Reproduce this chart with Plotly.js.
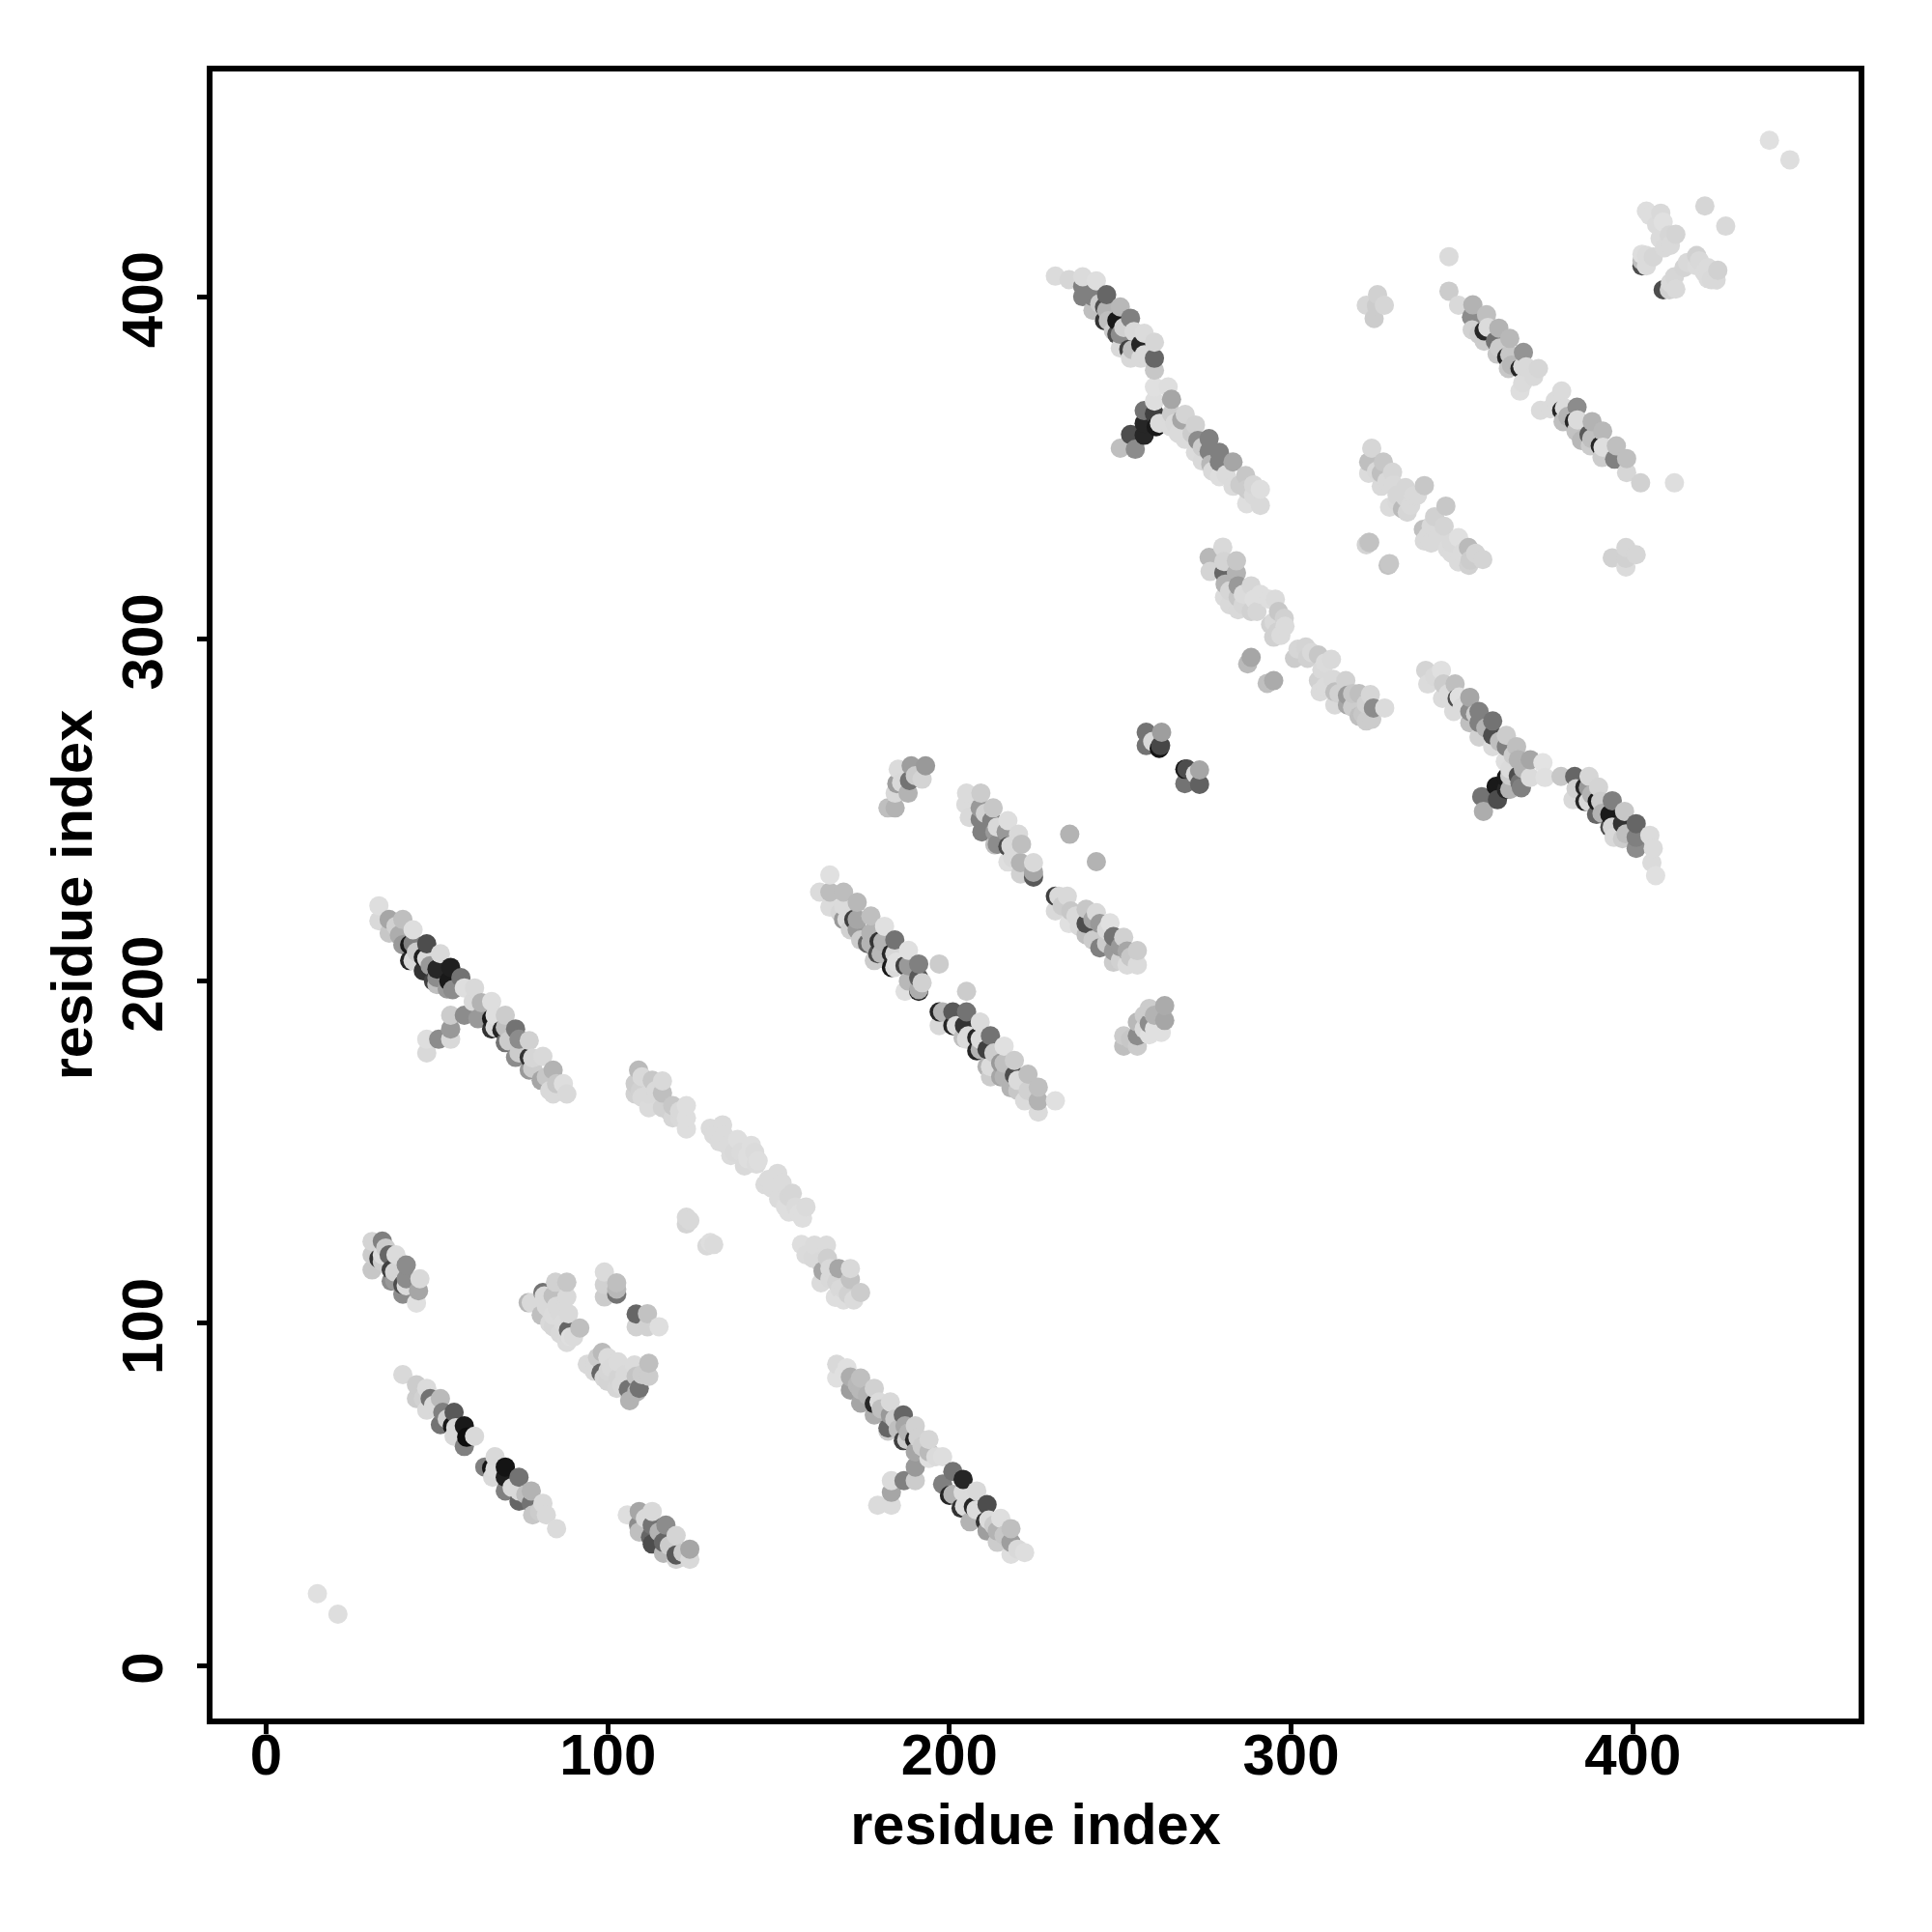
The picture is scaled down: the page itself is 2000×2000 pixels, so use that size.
<!DOCTYPE html>
<html><head><meta charset="utf-8"><script src="https://cdn.plot.ly/plotly-3.0.1.min.js"></script>
<style>html,body{margin:0;padding:0;background:#fff}</style></head><body><div id="c" style="width:2000px;height:2000px"></div>
<script>
// each contact: [residue i, residue j, contact strength (0 = white, 100 = black)]
const isolated=[[15,21,12],[21,15,13],[440,445.7,12],[446,440,13],[243,234.9,30],[235.2,242.9,30],[197,205,20],[205,197,20],[412.2,345.6,13]];
const helixA=[[33,222,13],[33,217.6,15],[36,218,35],[40,218,25],[36,214,22],[39,213.4,32],[40,210.6,40],[43,215,13],[42,210.6,90],[43,211,50],[42,206,85],[43,206,15],[47,210.9,70],[46,207,88],[46,203,80],[51,208,15],[50,203.5,85],[49,200,75],[54,204,88],[53.5,200,90],[53,197.7,40],[57,201,55],[58,198,13],[61,198,15],[47,206.5,15],[50,201,45],[50,199,25],[54.6,197.5,45],[44,208.5,20],[38,216,18],[48,204.5,40]];
const branchA=[[54,190,20],[58,190,45],[54,186,40],[54,183,15],[50.5,183,45],[47,183,13],[47,179,15]];
const helixB=[[60.6,194,15],[63,193.7,30],[62,189,40],[66,189,90],[66,194,13],[67,190,13],[66,186,80],[70,190,20],[69,185.7,85],[73,186,55],[70,182,55],[74,183,45],[73,177.7,45],[77,177.7,80],[77,182.6,18],[77,174,40],[81,178,15],[80.5,171,35],[84,174,30],[84,167,15],[87,170,13],[88,167,15],[67,186.5,15],[70,186.5,25],[78,177.5,16],[78,174.5,20],[71,182.5,20],[74,179,20],[82,172,22],[85,170,22],[83,168,15]];
const helixC=[[165,231,12],[162,226,14],[165,226,26],[169,226,26],[165,221.6,14],[169,222,14],[169,218,40],[172,218,75],[173,223,28],[173,215,40],[176,211,60],[177,214,30],[177,219,25],[179,208,70],[179.4,211.6,80],[181,216,12],[183,204,90],[183,208,85],[184,212,55],[187,197,12],[187,204.5,75],[188,209,12],[191,197,85],[191,197.5,32],[191,201,65],[191,205,50],[170,218,14],[173,218,35],[177,211,30],[180,208,28],[180.5,211.5,30],[184,204,14],[184,208,16],[184.5,205.5,12],[188,204.5,40],[178,206,20],[174,212,20],[171,215,18],[168,220,16],[188,200,28],[192,199.5,18]];
const helixD=[[197,191,85],[198,191,30],[197,187,15],[201,187,85],[201,191,65],[204,183.4,25],[204.4,187,80],[205,191,55],[208,179.6,85],[208,183.5,85],[209,188,14],[211,175,30],[211,180,75],[212,184,55],[215,172,35],[215,176,40],[216,181,12],[218,168.8,30],[219,172.5,70],[219,176.8,20],[222,165,14],[223,172.8,25],[226,161.7,14],[226,165,30],[226,169,25],[231,165,12],[202,187,14],[205.5,184,14],[209,183,14],[209,180,30],[205,183,14],[212,175,14],[212,172,20],[216,172,30],[220,171,14],[216,176,25],[220,168,22],[223,168,18],[213,179,20]];
const helixE=[[231,220.5,15],[231,224.8,75],[234.5,224.8,15],[235,216.8,12],[235.5,220.5,22],[240,213.5,25],[240,216.8,70],[240,221,22],[243,220,15],[244,209.7,50],[244,216.8,40],[247,217,12],[248,205.5,20],[248,208.8,40],[248,213,55],[251,212.8,18],[252,204.7,14],[252,208.8,35],[255,204.7,14],[255,208.9,20],[232,224.8,15],[233,222,20],[237,219,15],[238,216,15],[242,212,20],[242,218,35],[246,211,20],[246,215,15],[250,210,40],[250,206,18],[253,207,22]];
const clusterF=[[251,184,20],[251,181,25],[255,188,28],[255,184,45],[255,181,20],[258.5,192,20],[258.5,187.6,45],[258.5,184.3,12],[262,185,12],[263,188.5,35],[263,192.8,33],[253,183,22],[257,186,15],[260,186,12],[257,190,20],[260,190,30]];
const helixG=[[231,406,14],[235,405,16],[239,403,50],[239,405.8,14],[239,400,50],[242,396,25],[242,400,50],[243,404.6,13],[245.4,393,80],[245.4,397,70],[246,400.6,60],[249,389,70],[249,393,90],[250,397,28],[252.5,384.6,75],[253,382,15],[253,393.7,50],[254,389.8,15],[256,382,15],[256,386,85],[257,389.3,14],[260,382,60],[260,386.7,16],[260,378.5,22],[260,373.6,12],[264,373.6,13],[246.5,393,25],[250,389,45],[246,396,30],[257,383,15],[253.5,384.5,25],[250,385,15],[244,398,20],[248,390,20],[251,391,18]];
const branchG=[[250,355.7,25],[253,359.7,70],[254.4,355.4,45],[257,359.5,85],[257,363,85],[257,366.7,55],[260.5,362,90],[260,365.8,75],[260,369.5,13],[261.5,363,14]];
const helixH=[[264.7,362,14],[265,365.8,20],[265,370,35],[269,358.3,14],[269,365.6,17],[272,354.5,14],[272,362.5,18],[272.7,358,45],[276.5,351,28],[276,354.8,50],[276,358.5,50],[279,347.4,13],[279,351.7,50],[279,354.5,50],[283,344.6,14],[283,351.7,35],[287,339.5,13],[287,343.7,20],[286.7,347.7,22],[291,339,15],[291,343.7,13],[267,360,14],[271,360,20],[274,356,20],[274,352,15],[277,349,15],[281,348,14],[285,345,20],[289,342,15],[289,345,16],[266,363,15],[268,364,35]];
const helixI=[[339.4,290.8,17],[340,286.8,14],[344,290.8,12],[344.3,282.6,14],[344.6,286.8,20],[347.6,278.8,14],[348,286.8,25],[348.6,282.6,70],[349.2,283,12],[352.3,275.5,25],[352.3,278.8,45],[352.3,282.9,35],[355,271.3,18],[355,275.5,50],[355,278.8,50],[359,268.5,14],[359,271.8,70],[359,276,55],[362.7,264.2,13],[363,268.5,50],[363,271.8,20],[366,268.5,25],[366.5,264.7,30],[342,289,15],[346,284,14],[350,280,14],[354,278,20],[357,274,30],[361,270,25],[365,266,20],[364,262,14],[368,262,30]];
const branchI=[[356.3,249.6,32],[355.8,253.9,55],[360.4,253,70],[360,256.9,90],[363,256,85],[363,259.5,90],[367.4,256.5,50],[366.5,260,70],[370,259.5,14],[370,264.7,35],[373.7,263.8,11],[374.3,259.5,12],[379,259.8,22],[364,260,20],[364,256,30],[367,258,55]];
const helixJ=[[382.5,253,15],[383,259.8,60],[383.4,256.2,18],[386,252.5,85],[386,256.7,85],[387.2,259.8,16],[389.4,248.7,60],[389.6,252.5,90],[390,256.7,17],[393.3,245,70],[393.3,248.7,90],[394,252.7,50],[397,241.6,20],[397,246,80],[397.6,249.6,22],[401,238.8,45],[401,242,50],[401,246,60],[405,242.6,14],[405.6,234.6,14],[406,238.8,14],[406.7,230.8,12],[387,252.5,15],[387,256.5,40],[390.6,252.5,20],[394,245,17],[391,249,30],[394.5,242,15],[388,254.5,30],[398,243,25]];
const helixK=[[167,84,12],[167,88,15],[170,87,12],[171,80.5,38],[171,84.3,32],[174,76.7,35],[174,80.5,28],[174,84,25],[178,73.2,32],[178,76.5,85],[178,81,18],[179.4,77,14],[182,69.4,60],[182,68.5,20],[182.7,73.2,40],[182.7,77,15],[186.5,65.7,75],[186.5,73.2,60],[187,70,35],[189.8,66,85],[190,62.4,35],[190,70,18],[194,60.5,12],[194,62.4,27],[194,66,16],[198,61,13],[190.8,66.5,18],[187.5,66,20],[169,85,12],[173,82,28],[176,79,30],[180,75,25],[184,72,20],[185,69,25],[188,68,30],[192,64,20],[196,61,14]];
const branchK=[[179,46.8,14],[183,46.8,14],[183,50.6,35],[183,54,14],[186.7,54,50],[190,54,20],[190,58,40]];
const helixL=[[198,53,50],[200,49.7,85],[201,56.7,55],[203.4,46,80],[204,50.6,14],[204,54.4,85],[206,42,30],[207,46.4,85],[208,51,15],[210.5,42,80],[211,39.3,38],[211,47,70],[214,36,20],[214,39.3,30],[215,43,13],[218,32.5,13],[218,36,38],[218,40,25],[222,33,13],[201,50,30],[204.4,46.5,14],[207.8,45.5,14],[205,48,14],[211.5,42.5,14],[213,41,20],[216,38,22],[220,34,15]];
const clusterM=[[31,115.6,22],[31,120,20],[31,123.9,17],[33,118.9,80],[34,124,50],[36.6,112.3,45],[36.6,115.6,75],[36,120,60],[38,120,14],[40,108.5,45],[40,111.3,70],[41,117,45],[44,105.9,12],[44.6,109.5,35],[45,113,15],[34,118,20],[34,120,14],[37.6,115,17],[37.6,112.5,40],[41,111,14],[41,113,45],[35,122,20]];
const helixN=[[40,85,15],[44,78,20],[44,82,20],[47,74.6,15],[47,81,14],[48,78,55],[51,70.4,55],[51.7,74,50],[51,78,27],[54.5,70,90],[55,67,15],[55,74,65],[58,64,50],[58.7,66.7,95],[58,70,90],[61,67,15],[55.5,69.5,15],[46,78,18],[49,76,15],[53,72,18]];
const helixO=[[64,58,50],[66.3,55,15],[66,57.7,92],[67,61,15],[70,51,50],[70,55,88],[70,58,92],[74,48,60],[74,51,15],[74,55,55],[77.6,47.4,55],[77.6,51,30],[78,44,22],[81,47.4,15],[82,44,15],[85,40,14],[67,57.5,14],[72,52,15],[76,50,25],[80,45,20]];
const clusterP=[[76.7,106,28],[77.6,106,15],[81,109,55],[81.4,108,15],[80.5,102.4,25],[84,99,16],[84,102.4,14],[84,108,25],[84.7,112,18],[88,94.4,14],[88.5,98,60],[88,97,15],[88.5,102.8,15],[88,107.7,15],[88,112,22],[91.8,98.6,25],[82,105,15],[83,100,15],[85,105,15],[86,103,15],[86,97,15],[90,96,14],[87,100,14],[89,96,13],[83,104,15]];
const clusterQ=[[99,107.7,20],[99,111.3,18],[99,115,14],[102.6,108.5,55],[102.6,110,28],[102.6,111.8,25],[108.3,102.7,60],[108.3,99,18],[111.6,99,18],[111.6,102.8,24],[115,99,13]];
const clusterR=[[94,88,15],[96.3,87.8,15],[98,85.5,60],[98.9,84,16],[98.4,91.5,27],[102.6,81,16],[103,84,17],[103,88.7,14],[106.4,77.4,30],[106,80.7,55],[107.8,87.8,14],[108.3,84.5,23],[109.2,81,55],[112,84.5,20],[112,88.3,25],[96,86,15],[100,86,16],[101,87,15],[100,83,17],[104,82,15],[105,85,15],[110,85,20],[108.5,80,30],[100,90,14],[97,90,20]];
const clusterS=[[105.7,44,13],[109.2,39,25],[109,41,45],[109.2,45,35],[112.5,37.5,60],[113,35.5,70],[113,41,55],[113,45,15],[116.3,32.8,28],[116.3,36,60],[117,41,45],[120,31,17],[120,32.3,65],[120,38,17],[124,31,15],[124,34,35],[111,43,15],[115,39,30],[118,35,20],[122,33,20]];
const lightT=[[108,167,18],[108,170,20],[109,174,27],[112,163,14],[112,167,15],[113,171,22],[116,163,18],[116,167.3,25],[116,170.8,15],[119,160,16],[119,163.6,22],[123,156.8,13],[123,160,13],[123,163.6,13],[110,172,15],[109.5,168,18],[114,168,15],[118,162,18],[121,162,15],[121,160,15],[110,166,15]];
const lightU=[[130,157,14],[132.7,153,14],[133.6,158,14],[137,150,15],[138,153.7,13],[140,146,15],[143,150,14],[146,140.5,14],[149.7,143.8,14],[150,136.3,14],[153,132.5,13],[154,138,16],[157,130.7,13],[158,134,14],[131,155,14],[134,155,14],[135,152,14],[136,149,14],[139,150,14],[141,148,13],[142,152,13],[144,147.5,13],[147,142,14],[148,139.5,14],[151,141,14],[152,134,13],[155,134,14],[156,132,13],[143.5,146.5,14],[141,149,13],[153,137,16]];
const lightV=[[123,129,17],[123,131,15],[130,123,15],[130,123.6,13],[124,130,15],[131,123,14],[129,122.6,15]];
const lightW=[[156.7,123,13],[160,119,15],[160.5,122.8,14],[162.4,111.8,14],[163,115.3,35],[164,122.8,14],[164.3,119,19],[166.6,107.6,13],[167,112,17],[167.6,116,35],[170.4,108.5,18],[171,112.8,24],[171,116,15],[174,109,20],[158,120,14],[162,118,15],[165,113,15],[165,116,15],[168,110,15],[169,106.8,13],[172,106.8,14],[169,110,15]];
const lightX=[[322.7,348.4,14],[322.7,351.7,25],[323.6,355.7,16],[326.4,344.6,15],[326.4,348.4,25],[327,351.7,22],[329.7,348.7,16],[328.8,338.5,14],[332.6,338,27],[333.5,341.3,16],[333.5,344.2,16],[335.9,341.8,15],[339,344.8,22],[325,349,15],[328,346,15],[330,345,15],[331,342,16],[335,339,15],[331,340,15],[334,337,16],[337,342,15]];
const lightY=[[339,328.6,15],[338.7,332,25],[342,335.7,18],[344.8,332.9,17],[345.3,338.8,22],[345.8,326.3,14],[349,322.5,14],[349,329.6,12],[351.9,326.7,27],[352.4,323,20],[356.1,323.2,17],[340,330,15],[341,333,15],[343,330,15],[347,325,14],[347,328,15],[350,325,14],[354,325,17],[352,321.5,18],[341,328,15]];
const lightZ=[[322,327.5,17],[323,328.2,24],[322.7,328.2,22],[328.4,321.5,24],[328.8,322,22]];
const smallC=[[394,323.7,18],[398,321,14],[398,323.5,18],[398,326.7,16],[401,324.6,16]];
const smallD=[[322,397.5,16],[324.3,393.6,20],[325.3,400.6,18],[325,397.3,20],[327.3,397.5,16]];
const helixAA=[[346.2,411.7,14],[346.2,401.6,20],[349,397.5,15],[352.8,394,45],[353,390.3,18],[353.2,397.6,30],[356.5,387,20],[356.5,390,85],[357.2,394.7,25],[359.8,387,55],[360.3,383.2,22],[360.8,390.8,30],[363.1,382.3,85],[363.6,379,22],[364,387.8,28],[367,372.4,13],[367.8,374.8,14],[367,379,85],[368,383.7,42],[368.8,379.5,15],[371,376.7,15],[372.4,379,16],[357.6,391,14],[364,383,22],[364.5,380,28],[367.8,379.6,15],[355,389,20],[361,385,20]];
const helixAB=[[373,366.8,14],[375.9,367.2,14],[377.3,369.6,14],[379.2,372.4,14],[379.6,363.5,25],[379.2,366.8,85],[383.4,360.7,24],[382.9,363.5,85],[383.7,367.7,45],[387.6,356.4,20],[387.2,359.7,65],[388.1,363.5,30],[391,353,20],[390.5,356.4,85],[391.3,356,13],[391.2,360.7,28],[394.7,352.5,50],[395.2,356.4,25],[398.2,348.6,16],[398.2,352.7,25],[402.3,345.6,18],[380,367.5,14],[383.8,364,14],[381,365,30],[385,358,28],[388,358.5,25]];
const clusterAC=[[402.7,409,70],[402.7,410.5,25],[402.7,412.4,13],[405,423.7,13],[406,411.6,16],[408.2,424.4,15],[408.9,421.8,12],[409.3,414.3,15],[410.7,418,16],[412.6,418.2,17],[404,425,13],[407,421,14],[411,415,15],[408,417,14],[404,409,14],[404,412,14]];
const clusterAD=[[408.9,402,70],[410.7,402,18],[412.2,405.8,16],[412.6,402.2,15],[415,408.5,17],[418.7,409,14],[418.7,412,18],[421.1,426.5,16],[422,405.3,14],[422,408.5,14],[424.4,404.9,15],[424.9,407.7,18],[427.2,420.6,15],[419.5,410.5,15],[421,407,14],[423,405,15],[416,410,15],[411,404,15]];
const helixAE=[[276,323.8,28],[276.3,319.7,17],[280.5,312.2,14],[280.7,316,30],[280,326.8,15],[280.3,322.6,17],[280.3,319.3,60],[284,319.3,30],[284,322.8,22],[284.5,308.5,15],[284.5,312.2,22],[284.5,315.5,40],[288.3,308,18],[288.3,315.5,16],[289.2,311.6,13],[293.5,311.6,13],[295.4,311.6,14],[294,304.2,18],[294.9,300.5,18],[296.3,308,22],[298.2,303.7,14],[282,314,16],[282,310,15],[286,310,16],[290,308,16],[286,313,14],[291,313,13],[296,302,18],[298,306,18],[295,305,15],[297,301,14]];
const pairE=[[287.3,292.7,27],[288.3,294.6,35],[293,287,25],[294.9,287.8,33]];
const helixAF=[[301,294.3,20],[302,297,16],[304.8,294.3,18],[304.3,297.6,17],[308,295.3,22],[311.8,294,15],[308,287.8,18],[308.5,284.5,14],[312.3,288.2,15],[312.8,280.7,15],[312.8,284.5,25],[316,287.8,18],[316.5,280.7,35],[316.5,283.5,40],[319.9,277.4,25],[319.9,284,25],[323.6,276.5,20],[324.1,279.8,45],[323.2,283.7,16],[327.4,279.8,14],[306,296,15],[310,293,14],[309,291,15],[310,286,14],[314,284,18],[318,280,20],[318,284,22],[321,278,22],[322,281,18],[322,276,20]];
const clusterAG=[[257.6,268.8,55],[257.6,272.7,55],[261.4,268,92],[261.8,268.8,72],[262.1,272.7,38],[259.5,270,15]];
const clusterAH=[[268.9,257.7,55],[268.9,261.9,90],[269.5,262,70],[273.2,257.5,62],[273.2,261.7,35],[272,260.5,14]];
const helixAI=[[204.8,251.6,14],[205,254.9,14],[205.8,247.8,15],[209.5,243.6,50],[209,247.3,50],[209,250.6,40],[209.2,254.9,20],[212.4,246.9,50],[212.8,250.6,22],[213.3,239.8,25],[213.3,243.6,40],[216.6,243.6,40],[217.1,234.8,13],[217.1,239.3,70],[217.1,246.9,13],[220.2,242.9,15],[220.8,231.3,18],[220.8,234.6,30],[221.1,240,25],[224.6,230.4,65],[224.6,231.8,35],[224.6,234.6,15],[210.5,249,18],[214,245,15],[214,240,45],[218,239.5,15],[218.5,236,15]];
const clusterAJ=[[182,250.6,25],[184.1,250.6,30],[184.1,254.9,15],[184.6,257.7,38],[185,261.9,14],[187.9,254.9,30],[188.3,258.6,55],[188.8,262.9,38],[192,259,17],[193,262.9,40],[186,258,15],[190,260,20]];

const clusters=[isolated,helixA,branchA,helixB,helixC,helixD,helixE,clusterF,helixG,branchG,helixH,helixI,branchI,helixJ,helixK,branchK,helixL,clusterM,helixN,helixO,clusterP,clusterQ,clusterR,clusterS,lightT,lightU,lightV,lightW,lightX,lightY,lightZ,smallC,smallD,helixAA,helixAB,clusterAC,clusterAD,helixAE,pairE,helixAF,clusterAG,clusterAH,helixAI,clusterAJ];
const axisTicks=[0,100,200,300,400];
const axisTitle='residue index';

// contacts are drawn in residue order, so each later column overlaps the previous one
const contacts=clusters.flat().slice().sort((a,b)=>a[0]-b[0]||a[1]-b[1]);
const fam='"Liberation Sans", Arimo, Helvetica, Arial, sans-serif';
const trace={type:'scatter',mode:'markers',x:contacts.map(p=>p[0]),y:contacts.map(p=>p[1]),
  marker:{size:20,color:contacts.map(p=>p[2]),cmin:0,cmax:100,colorscale:[[0,'#ffffff'],[1,'#000000']],showscale:false,line:{width:0}},
  hoverinfo:'x+y',showlegend:false};
const axis={tickmode:'array',tickvals:axisTicks,ticktext:axisTicks.map(String),ticks:'outside',ticklen:10,tickwidth:5,tickcolor:'#000',
  showgrid:false,zeroline:false,showline:true,linecolor:'#000',linewidth:6,mirror:true,automargin:false,
  tickfont:{family:fam,size:60,weight:700,color:'#000'}};
const titleFont={family:fam,size:59.5,weight:700,color:'#000'};
Plotly.newPlot('c',[trace],{width:2000,height:2000,paper_bgcolor:'#fff',plot_bgcolor:'#fff',showlegend:false,
  margin:{l:220,r:76,t:74,b:220.5,pad:0},
  xaxis:{...axis,range:[-15.7,466.1],ticklabelstandoff:-30,title:{text:axisTitle,standoff:20,font:titleFont}},
  yaxis:{...axis,range:[-15.5,465.8],tickangle:-90,ticklabelstandoff:12,ticklabelshift:12,title:{text:axisTitle,standoff:1,font:titleFont}}
},{displayModeBar:false,staticPlot:true});
</script></body></html>
